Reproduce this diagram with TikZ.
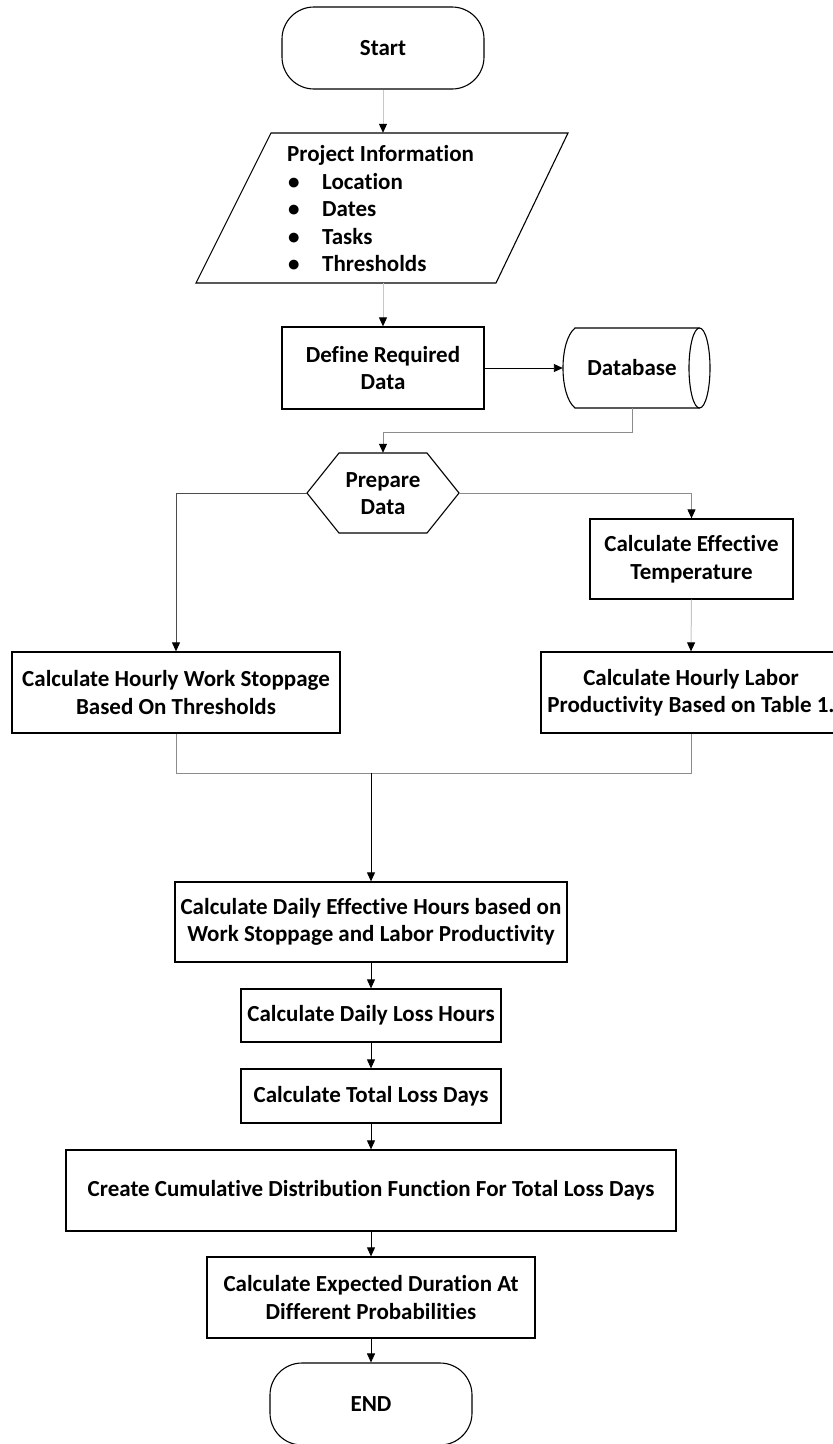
\documentclass[tikz,border=0pt]{standalone}
\usepackage{fontspec}
\setmainfont{Carlito}[Ligatures=NoCommon]
\usetikzlibrary{arrows.meta}
\begin{document}
\begin{tikzpicture}[x=1pt,y=-1pt,
  every node/.style={font=\bfseries\fontsize{23pt}{27.5pt}\selectfont, inner sep=0pt, align=center},
  box/.style={draw=black, line width=1.3pt, minimum width=#1},
  box/.default=200pt,
  term/.style={draw=black, line width=1.1pt, rounded corners=32pt, minimum width=202pt, minimum height=82pt},
  ghost/.style={draw=none},
  shp/.style={draw=black, line width=1.1pt},
  tip/.style={-{Triangle[color=black,length=9pt,width=8pt]}},
  lk/.style={tip, draw=black, line width=0.9pt},
  ldark/.style={tip, draw=black!70, line width=1pt},
  lmid/.style={tip, draw=black!45, line width=1pt},
  llight/.style={tip, draw=black!22, line width=1pt},
  plain/.style={draw=black!45, line width=1pt}
]
\useasboundingbox (0,0) rectangle (833,1444);
\fill[white] (0,0) rectangle (833,1444);

% Start
\node[term] (start) at (383,48) {Start};

% Project information (parallelogram)
\node[ghost, minimum width=222pt, minimum height=150pt] (proj) at (383,208) {};
\draw[shp] (271,133) -- (568,133) -- (496,283) -- (196,283) -- cycle;
\node[anchor=west, align=left] (projtext) at (287,209)
  {Project Information\\
   \makebox[35pt][l]{\hspace{1pt}\textbullet}Location\\
   \makebox[35pt][l]{\hspace{1pt}\textbullet}Dates\\
   \makebox[35pt][l]{\hspace{1pt}\textbullet}Tasks\\
   \makebox[35pt][l]{\hspace{1pt}\textbullet}Thresholds};

% Define required data
\node[box=202pt, minimum height=82pt] (define) at (383,368) {Define Required\\Data};

% Database
\node[ghost, minimum width=138pt, minimum height=80pt] (db) at (632,368) {};
\draw[shp] (699.5,328) -- (575,328) .. controls (559,341) and (559,395) .. (575,408) -- (699.5,408);
\draw[shp] (699.5,368) ellipse [x radius=10.5pt, y radius=40pt];
\node (dbtext) at (632,368) {Database};

% Prepare data (hexagon)
\node[ghost, minimum width=152pt, minimum height=80pt] (prep) at (383,493) {};
\draw[shp] (339,453) -- (427,453) -- (459,493) -- (427,533) -- (339,533) -- (307,493) -- cycle;
\node (preptext) at (383,493.5) {Prepare\\Data};

% Side boxes
\node[box=203pt, minimum height=80pt] (cet) at (691.5,559) {Calculate Effective\\Temperature};
\node[box=328pt, minimum height=81pt] (chws) at (176,692.5) {Calculate Hourly Work Stoppage\\Based On Thresholds};
\node[box=300pt, minimum height=81pt] (chl) at (691,692.5)
  {\makebox[280pt]{Calculate Hourly Labor}\\\makebox[280pt]{Productivity Based on Table 1.}};

% Lower column
\node[box=392pt, minimum height=80pt] (daily) at (371,922) {Calculate Daily Effective Hours based on\\Work Stoppage and Labor Productivity};
\node[box=260pt, minimum height=53pt] (loss) at (371,1015.5) {Calculate Daily Loss Hours};
\node[box=260pt, minimum height=54pt] (total) at (371,1096) {Calculate Total Loss Days};
\node[box=610pt, minimum height=81pt] (cdf) at (371,1190.5) {Create Cumulative Distribution Function For Total Loss Days};
\node[box=328pt, minimum height=81pt] (expd) at (371,1297.5) {Calculate Expected Duration At\\Different Probabilities};
\node[term] (end) at (371,1404) {END};

% merge point
\coordinate (mergeL) at (176,773);
\coordinate (mergeR) at (691,773);
\coordinate (mergeC) at (371,773);
\coordinate (dbout) at (632,408);

% Connectors
\draw[llight] (start) -- (proj.north);
\draw[llight] (proj.south) -- (define.north);
\draw[lk] (define.east) -- (db.west);
\draw[lmid] (dbout) -- (632,432) -| (prep.north);
\draw[ldark] (prep.west) -| (chws.north);
\draw[lmid] (prep.east) -| (cet.north);
\draw[llight] (cet.south) -- (chl.north);
\draw[plain] (chws.south) -- (mergeL) -- (mergeR) -- (chl.south);
\draw[lk] (mergeC) -- (daily.north);
\draw[lk] (daily.south) -- (loss.north);
\draw[lk] (loss.south) -- (total.north);
\draw[lk] (total.south) -- (cdf.north);
\draw[lk] (cdf.south) -- (expd.north);
\draw[lk] (expd.south) -- (end.north);
\end{tikzpicture}
\end{document}
